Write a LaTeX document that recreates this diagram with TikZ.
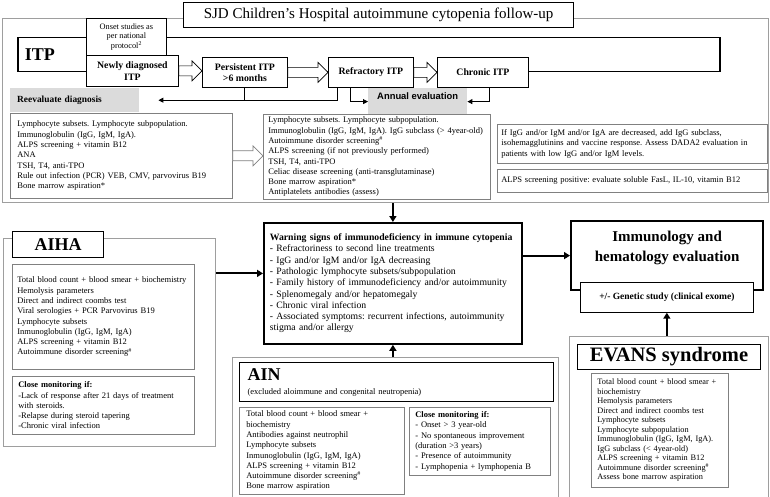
\documentclass[tikz,border=0pt]{standalone}
\usepackage{fontspec}
\setmainfont{Liberation Serif}
\newfontfamily\annualfont{Liberation Sans}
\usepackage{tikz}
\usetikzlibrary{arrows.meta,calc,positioning}

\definecolor{framegray}{gray}{0.62}
\definecolor{boxgray}{gray}{0.5}
\definecolor{shadegray}{gray}{0.86}

\newcommand{\smalltext}{\fontsize{8.5}{10.3}\selectfont}
\frenchspacing

% white block arrow between two boxes
\newcommand{\hollowarrow}[3][black]{%
  \draw[draw=#1, fill=white, line width=0.7pt]
    let \p1=(#2.east), \p2=(#3.west) in
    (\x1,\y1+5pt) -- (\x2-10pt,\y1+5pt) -- (\x2-10pt,\y1+10pt) -- (\x2,\y1)
    -- (\x2-10pt,\y1-10pt) -- (\x2-10pt,\y1-5pt) -- (\x1,\y1-5pt) -- cycle;}

\begin{document}
\begin{tikzpicture}[x=1pt, y=-1pt,
    areaframe/.style={draw=framegray, line width=0.8pt, anchor=north west, inner sep=0pt},
    titlebox/.style={draw, fill=white, line width=1.1pt, anchor=north west, inner sep=0pt},
    stagebox/.style={draw, fill=white, line width=0.8pt, anchor=north west, align=center,
      inner sep=0pt, font=\fontsize{9.8}{11.5}\selectfont\bfseries},
    shadebox/.style={fill=shadegray, anchor=north west, inner sep=0pt},
    infobox/.style={draw=boxgray, fill=white, line width=0.7pt, anchor=north west,
      align=left, inner ysep=0pt, font=\smalltext},
    heavybox/.style={draw, fill=white, line width=1.8pt, anchor=north west},
    conn/.style={line width=0.9pt, -{Triangle[length=5pt,width=5pt]}},
    bigarr/.style={line width=2pt, -{Triangle[length=6pt,width=7pt]}}
  ]
  \useasboundingbox (0,0) rectangle (770,497);
  \clip (0,0) rectangle (770,497);

  % ITP part
  \node[areaframe, minimum width=766pt, minimum height=184pt] (itparea) at (2,18) {};
  \node[titlebox, minimum width=390pt, minimum height=25pt, font=\fontsize{15}{18}\selectfont]
    (title) at (183,2) {SJD Children’s Hospital autoimmune cytopenia follow-up};
  \node[heavybox, line width=1.5pt, minimum width=702pt, minimum height=34pt, inner xsep=7pt,
    text width=688pt, align=left, font=\fontsize{18}{20}\selectfont\bfseries] (itp) at (17,37) {ITP};

  \node[stagebox, font=\fontsize{8.3}{9.8}\selectfont, minimum width=80pt, minimum height=37pt]
    (onset) at (86,18) {Onset studies as\\per national\\protocol\textsuperscript{2}};
  \node[stagebox, minimum width=92pt, minimum height=31pt] (newly) at (86,55) {Newly diagnosed\\ITP};
  \node[stagebox, minimum width=85pt, minimum height=30pt] (persist) at (202,57) {Persistent ITP\\>6 months};
  \node[stagebox, minimum width=85pt, minimum height=30pt] (refr) at (328,57) {Refractory ITP};
  \node[stagebox, minimum width=91pt, minimum height=30pt] (chronic) at (437,57) {Chronic ITP};

  \hollowarrow{newly}{persist}
  \hollowarrow{persist}{refr}
  \hollowarrow{refr}{chronic}

  \node[shadebox, minimum width=129pt, minimum height=24pt, inner xsep=7pt, text width=115pt,
    align=left, font=\fontsize{9.4}{11}\selectfont\bfseries] (reeval) at (10,88) {Reevaluate diagnosis};
  \node[shadebox, minimum width=99pt, inner ysep=4pt, text depth=12pt,
    font=\annualfont\bfseries\fontsize{9.4}{11}\selectfont] (annual) at (368,88) {Annual evaluation};

  % follow-up connectors
  \draw[conn, shorten >=19pt] ([xshift=9pt]refr.south west) |- (reeval.east);
  \draw[line width=0.9pt] (persist.south) -- (persist.south |- reeval.east);
  \draw[conn] ([xshift=22pt]refr.south west) |- (annual.west);
  \draw[conn] ([xshift=7pt]chronic.south) |- (annual.east);

  % studies
  \node[infobox, minimum width=222pt, minimum height=85pt, inner xsep=7pt, text width=208pt]
    (revleft) at (10,113) {Lymphocyte subsets. Lymphocyte subpopulation.\\
      Immunoglobulin (IgG, IgM, IgA).\\
      ALPS screening + vitamin B12\\
      ANA\\
      TSH, T4, anti-TPO\\
      Rule out infection (PCR) VEB, CMV, parvovirus B19\\
      Bone marrow aspiration*};
  \node[infobox, minimum width=227pt, minimum height=85pt, inner xsep=5pt, text width=217pt]
    (revmid) at (263,114) {Lymphocyte subsets. Lymphocyte subpopulation.\\
      Immunoglobulin (IgG, IgM, IgA). IgG subclass (> 4year-old)\\
      Autoimmune disorder screening\textsuperscript{\#}\\
      ALPS screening (if not previously performed)\\
      TSH, T4, anti-TPO\\
      Celiac disease screening (anti-transglutaminase)\\
      Bone marrow aspiration*\\
      Antiplatelets antibodies (assess)};
  \hollowarrow[boxgray]{revleft}{revmid}

  \node[infobox, minimum width=270pt, minimum height=39pt, inner xsep=4pt, text width=262pt]
    (igbox) at (497,124) {If IgG and/or IgM and/or IgA are decreased, add IgG subclass,\\
      isohemagglutinins and vaccine response. Assess DADA2 evaluation in\\
      patients with low IgG and/or IgM levels.};
  \node[infobox, minimum width=270pt, minimum height=23pt, inner xsep=4pt, text width=262pt]
    (alpsbox) at (497,169) {ALPS screening positive: evaluate soluble FasL, IL-10, vitamin B12};

  % AIHA
  \node[areaframe, minimum width=212pt, minimum height=208pt] (aihaarea) at (3,238) {};
  \node[heavybox, line width=1.1pt, minimum width=91pt, minimum height=26pt, inner sep=0pt,
    font=\fontsize{18}{20}\selectfont\bfseries] (aiha) at (12,231) {AIHA};
  \node[infobox, minimum width=182pt, minimum height=105pt, inner xsep=5pt, text width=172pt]
    (aihatests) at (12,264) {Total blood count + blood smear + biochemistry\\
      Hemolysis parameters\\
      Direct and indirect coombs test\\
      Viral serologies + PCR Parvovirus B19\\
      Lymphocyte subsets\\
      Inmunoglobulin (IgG, IgM, IgA)\\
      ALPS screening + vitamin B12\\
      Autoimmune disorder screening\textsuperscript{\#}};
  \node[infobox, minimum width=182pt, minimum height=58pt, inner xsep=6pt, text width=170pt]
    (aihaclose) at (12,376) {\textbf{Close monitoring if:}\\
      -Lack of response after 21 days of treatment\\
      with steroids.\\
      -Relapse during steroid tapering\\
      -Chronic viral infection};

  % warning signs
  \node[heavybox, minimum width=258pt, minimum height=121pt, inner xsep=6pt, inner ysep=0pt,
    text width=246pt, align=left, font=\fontsize{9.7}{11.3}\selectfont]
    (warn) at (263,222) {\textbf{Warning signs of immunodeficiency in immune cytopenia}\\
      - Refractoriness to second line treatments\\
      - IgG and/or IgM and/or IgA decreasing\\
      - Pathologic lymphocyte subsets/subpopulation\\
      - Family history of immunodeficiency and/or autoimmunity\\
      - Splenomegaly and/or hepatomegaly\\
      - Chronic viral infection\\
      - Associated symptoms: recurrent infections, autoimmunity\\
      stigma and/or allergy};

  % evaluation
  \node[heavybox, line width=2.2pt, minimum width=192pt, minimum height=69pt, align=center,
    text height=15pt, font=\fontsize{15}{19.5}\selectfont\bfseries] (immuno) at (570,220) {Immunology and\\hematology evaluation};
  \node[draw, fill=white, line width=0.7pt, anchor=north west, minimum width=173pt, minimum height=30pt,
    font=\fontsize{9.5}{11}\selectfont\bfseries] (genetic) at (580,282) {+/- Genetic study (clinical exome)};

  % AIN
  \node[areaframe, minimum width=326pt, minimum height=150pt] (ainarea) at (232,357) {};
  \node[heavybox, line width=1.1pt, minimum width=314pt, minimum height=39pt, inner xsep=8pt, inner ysep=0pt,
    text width=298pt, align=left, font=\smalltext]
    (ain) at (239,362) {{\fontsize{18}{20}\selectfont\bfseries AIN}\\[3.7pt](excluded aloimmune and congenital neutropenia)};
  \node[infobox, minimum width=165pt, minimum height=87pt, inner xsep=7pt, text width=151pt]
    (aintests) at (239,407) {Total blood count + blood smear +\\
      biochemistry\\
      Antibodies against neutrophil\\
      Lymphocyte subsets\\
      Inmunoglobulin (IgG, IgM, IgA)\\
      ALPS screening + vitamin B12\\
      Autoimmune disorder screening\textsuperscript{\#}\\
      Bone marrow aspiration};
  \node[infobox, minimum width=141pt, minimum height=68pt, inner xsep=6pt, text width=129pt]
    (ainclose) at (409,407) {\textbf{Close monitoring if:}\\
      - Onset > 3 year-old\\
      - No spontaneous improvement\\
      (duration >3 years)\\
      - Presence of autoimmunity\\
      - Lymphopenia + lymphopenia B};

  % EVANS
  \node[areaframe, minimum width=199pt, minimum height=170pt] (evansarea) at (569,336) {};
  \node[heavybox, line width=1.1pt, minimum width=183pt, minimum height=25pt, inner sep=0pt,
    font=\fontsize{20.5}{22}\selectfont\bfseries] (evans) at (577,344) {EVANS syndrome};
  \node[infobox, font=\fontsize{8.3}{9.5}\selectfont, minimum width=137pt, minimum height=114pt,
    inner xsep=6pt, text width=125pt] (evanstests) at (591,373) {Total blood count + blood smear +\\
      biochemistry\\
      Hemolysis parameters\\
      Direct and indirect coombs test\\
      Lymphocyte subsets\\
      Lymphocyte subpopulation\\
      Immunoglobulin (IgG, IgM, IgA).\\
      IgG subclass (< 4year-old)\\
      ALPS screening + vitamin B12\\
      Autoimmune disorder screening\textsuperscript{\#}\\
      Assess bone marrow aspiration};

  % main arrows
  \coordinate (warnin) at ([yshift=10pt]warn.west);
  \draw[bigarr] (warn.north |- itparea.south) -- (warn.north);
  \draw[bigarr] (aihaarea.east |- warnin) -- (warnin);
  \draw[bigarr] (warn.east |- immuno.west) -- (immuno.west);
  \draw[bigarr] (warn.south |- ainarea.north) -- (warn.south);
  \draw[bigarr] (genetic.south |- evansarea.north) -- (genetic.south);
\end{tikzpicture}
\end{document}
